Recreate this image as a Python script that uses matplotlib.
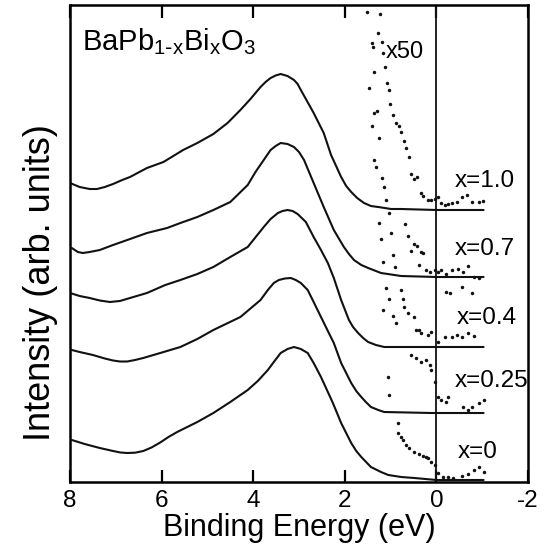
import matplotlib
matplotlib.use("Agg")
import matplotlib.pyplot as plt

plt.rcParams['font.family'] = ['Liberation Sans', 'DejaVu Sans']
plt.rcParams['mathtext.default'] = 'regular'

# ---- main spectra (binding energy in eV, intensity in arb. units incl. offset) ----
e_x10 = [8.00, 7.79, 7.57, 7.41, 7.24, 7.06, 6.86, 6.69, 6.32, 5.96, 5.53, 5.22, 4.87, 4.56,
         4.28, 4.06, 3.84, 3.73, 3.62, 3.51, 3.40, 3.25, 3.11, 3.03, 2.96, 2.85, 2.74, 2.68,
         2.46, 2.30, 2.08, 1.97, 1.86, 1.73, 1.58, 1.43, 1.27, 0.99, 0.77, 0.00, -1.03]
i_x10 = [299, 295, 293, 293, 295, 298, 302, 305, 314, 320, 332, 339, 348, 359,
         372, 383, 395, 400, 404, 406.5, 408, 406, 402, 398, 392, 383, 374, 369,
         349, 327, 305, 296, 290, 284, 279, 276, 275, 273, 273, 272, 272]

e_x07 = [7.96, 7.83, 7.72, 7.57, 7.35, 7.06, 6.75, 6.32, 5.88, 5.59, 5.22, 4.87, 4.50, 4.12,
         3.95, 3.77, 3.62, 3.51, 3.40, 3.25, 3.11, 3.00, 2.89, 2.68, 2.46, 2.24, 2.02, 1.91,
         1.80, 1.64, 1.49, 1.21, 0.77, 0.00, -1.03]
i_x07 = [234, 230, 229, 230, 232, 237, 242, 249, 254, 259, 265, 272, 280, 297,
         310, 322, 332, 336, 339, 338, 335, 330, 322, 299, 275, 252, 235, 228,
         222, 217, 214, 209, 206, 205, 205]

e_x04 = [8.00, 7.79, 7.57, 7.35, 7.13, 6.91, 6.69, 6.32, 5.92, 5.59, 5.22, 4.87, 4.50, 4.12,
         3.77, 3.62, 3.46, 3.36, 3.25, 3.14, 3.03, 2.85, 2.68, 2.52, 2.37, 2.24, 2.08, 1.91,
         1.82, 1.71, 1.60, 1.49, 1.32, 1.14, 0.00, -1.03]
i_x04 = [189, 186, 184, 181.5, 180, 181, 184, 189, 197, 202, 208, 215, 225, 235,
         255, 263, 269, 271, 272, 271, 268, 260, 245, 232, 219, 204, 182, 162,
         155, 149, 144, 140, 137, 135, 135, 135]

e_x025 = [7.96, 7.79, 7.50, 7.24, 7.06, 6.91, 6.75, 6.58, 6.40, 6.03, 5.59, 5.22, 4.87, 4.28,
          3.84, 3.68, 3.55, 3.44, 3.31, 3.18, 3.07, 2.96, 2.81, 2.68, 2.52, 2.37, 2.24, 2.08,
          1.86, 1.75, 1.64, 1.54, 1.43, 1.27, 1.14, 0.11, -1.03]
i_x025 = [132, 130, 127, 123.5, 121.5, 120.5, 120.5, 122, 124, 129, 135, 143, 152, 165,
          182, 192, 199, 202, 203.5, 204, 202, 199, 192, 180, 165, 151, 139, 119,
          99, 91, 85, 80, 75, 72, 70, 69, 69]

e_x00 = [7.96, 7.68, 7.35, 7.06, 6.90, 6.75, 6.58, 6.40, 6.22, 6.03, 5.85, 5.66, 5.22, 4.87,
         4.50, 4.12, 3.90, 3.68, 3.55, 3.40, 3.25, 3.11, 2.96, 2.81, 2.68, 2.52, 2.39, 2.26,
         2.08, 1.97, 1.86, 1.75, 1.64, 1.43, 1.21, 1.05, 0.77, 0.48, 0.00, -1.03]
i_x00 = [42, 38, 34, 31, 29.5, 29, 29.3, 31, 34.5, 39.5, 45, 50, 60, 69,
         80, 92, 101, 112, 120, 129, 133, 135, 133, 129, 119, 105, 92, 79,
         59, 49, 39, 31, 25, 15, 10, 7, 5, 4, 2, 2]

# ---- x50 magnified near-EF data (scattered points) ----
e50_x10 = [1.23, 1.18, 1.16, 1.12, 1.07, 1.03, 1.01, 0.94, 0.88, 0.81, 0.77, 0.70, 0.66, 0.59,
           0.55, 0.48, 0.42, 0.33, 0.29, 0.18, 0.11, 0.02, -0.04, -0.11, -0.18, -0.26, -0.33,
           -0.44, -0.55, -0.66, -0.77, -0.92, -1.01]
i50_x10 = [468, 440, 429, 415, 399, 392, 378, 367, 359, 356, 350, 341, 334, 325,
           308, 303, 305, 289, 286, 282, 282, 283, 285, 279, 277, 278, 279,
           280, 285, 287, 280, 280, 281]

e50_x07 = [1.51, 1.27, 1.40, 1.38, 1.36, 1.47, 1.36, 1.29, 1.40, 1.25, 1.36, 1.32, 1.18, 1.14,
           1.10, 0.68, 0.61, 0.48, 0.42, 0.55, 0.33, 0.29, 0.37, 0.22, 0.15, 0.04, -0.04,
           -0.11, -0.22, -0.33, -0.48, -0.59, -0.70, -0.83, -0.92, -0.22, -0.29, -0.55, -0.77]
i50_x07 = [470, 449, 439, 435, 410, 394, 369, 371, 356, 344, 322, 315, 304, 295,
           282, 258, 246, 238, 236, 231, 230, 229, 217, 212, 210, 212, 210,
           212, 208, 212, 213, 210, 216, 205, 204, 190, 189, 195, 189]

e50_x04 = [1.03, 1.25, 0.99, 1.21, 0.94, 1.16, 0.90, 0.77, 0.72, 0.70, 0.61, 0.50, 0.44, 0.37,
           0.33, 0.18, 0.11, -0.04, -0.18, -0.33, -0.44, -0.55, -0.70, -0.83]
i50_x04 = [269, 259, 249, 243, 227, 220, 215, 192, 183, 175, 169, 165, 152, 152,
           149, 147, 150, 140, 145, 145, 147, 145, 149, 146]

e50_x025 = [1.10, 1.03, 1.16, 0.94, 0.88, 0.55, 0.44, 0.33, 0.22, 0.15, 0.11, 0.04, -0.04,
            -0.11, -0.22, -0.26, -0.59, -0.70, -0.77, -0.92, -1.05]
i50_x025 = [194, 183, 172, 166, 159, 127, 124, 120, 122, 117, 112, 100, 85,
            82, 80, 85, 75, 72, 75, 79, 82]

e50_x00 = [1.05, 1.03, 0.83, 0.83, 0.77, 0.72, 0.66, 0.59, 0.50, 0.39, 0.29, 0.22, 0.18,
           0.11, 0.04, -0.04, -0.15, -0.26, -0.37, -0.55, -0.70, -0.83, -0.92, -1.03]
i50_x00 = [105, 87, 59, 49, 45, 42, 37, 34, 30, 28, 26, 25, 24,
           20, 17, 9, 5, 5, 4, 6, 8, 12, 15, 10]

labels = ["x=1.0", "x=0.7", "x=0.4", "x=0.25", "x=0"]
label_e = [-0.39, -0.39, -0.44, -0.41, -0.46]
label_i = [295, 227, 158, 95, 24]

xticks = [8, 6, 4, 2, 0, -2]

fig = plt.figure(figsize=(5.45, 5.48), dpi=100)
ax = fig.add_axes([70/545, 1-482/548, 458/545, 477/548])

curves = [(e_x10, i_x10), (e_x07, i_x07), (e_x04, i_x04), (e_x025, i_x025), (e_x00, i_x00)]
for e, i in curves:
    ax.plot(e, i, color='#111111', lw=1.5, solid_capstyle='round', solid_joinstyle='round')

x50 = [(e50_x10, i50_x10), (e50_x07, i50_x07), (e50_x04, i50_x04),
       (e50_x025, i50_x025), (e50_x00, i50_x00)]
for e, i in x50:
    ax.plot(e, i, linestyle='none', marker='o', ms=2.5, mec='none', color='#111111')

ax.axvline(0, color='#111111', lw=1.3)

for lab, le, li in zip(labels, label_e, label_i):
    ax.text(le, li, lab, fontsize=17.5, ha='left', va='baseline')

ax.text(1.1, 424, "x50", fontsize=17, ha='left', va='baseline')
ax.text(7.74, 432, r"BaPb$_{1\text{-}x}$Bi$_x$O$_3$", fontsize=21, ha='left', va='baseline')

ax.set_xlim(8, -2)
ax.set_ylim(0, 477)
ax.set_xticks(xticks)
ax.set_xticklabels([str(t) for t in xticks])
ax.set_yticks([])
ax.tick_params(axis='x', direction='in', length=9, width=1.6, top=True, labelsize=17.5, pad=6)
for s in ax.spines.values():
    s.set_linewidth(1.8)

fig.text(299/545, 1-536/548, "Binding Energy (eV)", fontsize=22, ha='center', va='baseline')
fig.text(41/545, 1-283/548, "Intensity (arb. units)", fontsize=26, rotation=90,
         ha='center', va='center')

fig.savefig("out.png", dpi=100)
